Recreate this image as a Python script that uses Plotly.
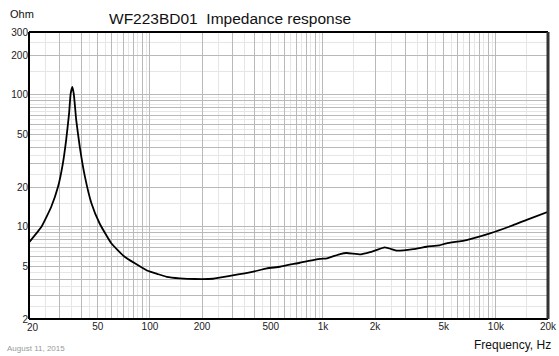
import plotly.graph_objects as go

# ---- data ----
freq_hz = [20, 23.6, 26.9, 29.4, 31.4, 32.8, 34.1, 34.8, 35.6, 36.3, 37.5, 39.3,
           42.1, 45.9, 51.2, 59.8, 71.4, 81.8, 96.9, 110, 125, 149, 182, 232,
           290, 396, 474, 564, 735, 962, 1056, 1258, 1372, 1652, 1872, 2280,
           2564, 2661, 3329, 3980, 4710, 5180, 6760, 9240, 12600, 15060, 20000]
impedance_ohm = [7.6, 10.0, 14.2, 20, 30.3, 45.6, 72.4, 102, 115, 102, 64.5, 40.6,
                 24, 15.1, 10.6, 7.5, 5.93, 5.29, 4.64, 4.4, 4.18, 4.07, 4.02, 4.04,
                 4.24, 4.57, 4.84, 4.98, 5.34, 5.71, 5.77, 6.22, 6.33, 6.18, 6.42, 6.98,
                 6.68, 6.6, 6.78, 7.06, 7.24, 7.5, 7.94, 8.92, 10.3, 11.3, 13.0]

x_tick_vals = [20, 50, 100, 200, 500, 1000, 2000, 5000, 10000, 20000]
x_tick_text = ["20", "50", "100", "200", "500", "1k", "2k", "5k", "10k", "20k"]
y_tick_vals = [2, 5, 10, 20, 50, 100, 200, 300]
y_tick_text = ["2", "5", "10", "20", "50", "100", "200", "300"]

title_text = "WF223BD01  Impedance response"
x_title = "Frequency, Hz"
y_title = "Ohm"
date_text = "August 11, 2015"


def grid_values(lo, hi, decades, steps):
    out = []
    for d in decades:
        for m in steps:
            v = round(m * d, 6)
            if lo <= v <= hi:
                out.append(v)
    return out


xdec = [1, 10, 100, 1000, 10000]
ydec = [1, 10, 100]
whole = [1, 2, 3, 4, 5, 6, 7, 8, 9]
halves = [1.5, 2.5, 3.5, 4.5, 5.5, 6.5, 7.5, 8.5, 9.5]

x_major = grid_values(20, 20000, xdec, whole)
x_minor = grid_values(20, 20000, xdec, halves)
y_major = grid_values(2, 300, ydec, whole)
y_minor = grid_values(2, 300, ydec, halves)

# first x label is drawn separately (nudged inward like the reference)
x_text = [x_tick_text[x_tick_vals.index(v)] if (v in x_tick_vals and v != x_tick_vals[0]) else ""
          for v in x_major]
y_text = [y_tick_text[y_tick_vals.index(v)] if v in y_tick_vals else "" for v in y_major]

FONT = "Liberation Sans, Arial, sans-serif"

fig = go.Figure()
fig.add_trace(go.Scatter(x=freq_hz, y=impedance_ohm, mode="lines",
                         line=dict(color="#000000", width=1.8, shape="spline", smoothing=0.4),
                         hoverinfo="skip", showlegend=False))

fig.update_layout(
    width=559, height=356,
    margin=dict(l=29, r=11, t=32, b=37),
    paper_bgcolor="white", plot_bgcolor="white",
    font=dict(family=FONT, size=10, color="#222222"),
    showlegend=False,
    xaxis=dict(type="log", range=[1.30103, 4.30103],
               tickmode="array", tickvals=x_major, ticktext=x_text,
               showgrid=True, gridcolor="#b9b9b9", gridwidth=1,
               ticks="", zeroline=False, showline=False, automargin=False,
               tickfont=dict(size=10, color="#222222"),
               minor=dict(tickmode="array", tickvals=x_minor, showgrid=True,
                          gridcolor="#e6e6e6", gridwidth=1, ticks="")),
    yaxis=dict(type="log", range=[0.30103, 2.4771213],
               tickmode="array", tickvals=y_major, ticktext=y_text,
               showgrid=True, gridcolor="#b9b9b9", gridwidth=1,
               ticks="", zeroline=False, showline=False, automargin=False,
               tickfont=dict(size=10, color="#222222"),
               minor=dict(tickmode="array", tickvals=y_minor, showgrid=True,
                          gridcolor="#e6e6e6", gridwidth=1, ticks="")),
    shapes=[
        dict(type="line", xref="paper", yref="paper", x0=0, x1=1, y0=0, y1=0,
             line=dict(color="#000000", width=2)),
        dict(type="line", xref="paper", yref="paper", x0=0, x1=1, y0=1, y1=1,
             line=dict(color="#000000", width=2)),
        dict(type="line", xref="paper", yref="paper", x0=0, x1=0, y0=0, y1=1,
             line=dict(color="#000000", width=2)),
        dict(type="line", xref="paper", yref="paper", x0=1, x1=1, y0=0, y1=1,
             line=dict(color="#333333", width=3)),
    ],
    annotations=[
        dict(text=title_text, xref="paper", yref="paper", x=(107 - 29) / 519, y=1,
             yshift=14, xanchor="left", yanchor="middle", showarrow=False,
             font=dict(family=FONT, size=15.5, color="#111111")),
        dict(text=y_title, xref="paper", yref="paper", x=-29 / 519, xshift=8, y=1,
             yshift=18, xanchor="left", yanchor="middle", showarrow=False,
             font=dict(family=FONT, size=11, color="#111111")),
        dict(text=x_tick_text[0], xref="x", yref="paper", x=1.30103, xshift=4, y=0,
             yshift=-8, xanchor="center", yanchor="middle", showarrow=False,
             font=dict(family=FONT, size=10, color="#222222")),
        dict(text=x_title, xref="paper", yref="paper", x=1, xshift=5, y=0,
             yshift=-26, xanchor="right", yanchor="middle", showarrow=False,
             font=dict(family=FONT, size=12, color="#111111")),
        dict(text=date_text, xref="paper", yref="paper", x=-29 / 519, xshift=5, y=0,
             yshift=-29, xanchor="left", yanchor="middle", showarrow=False,
             font=dict(family=FONT, size=8, color="#999999")),
    ],
)

fig.write_html("out.html", config={"displayModeBar": False},
               post_script="document.body.style.margin='0';")
